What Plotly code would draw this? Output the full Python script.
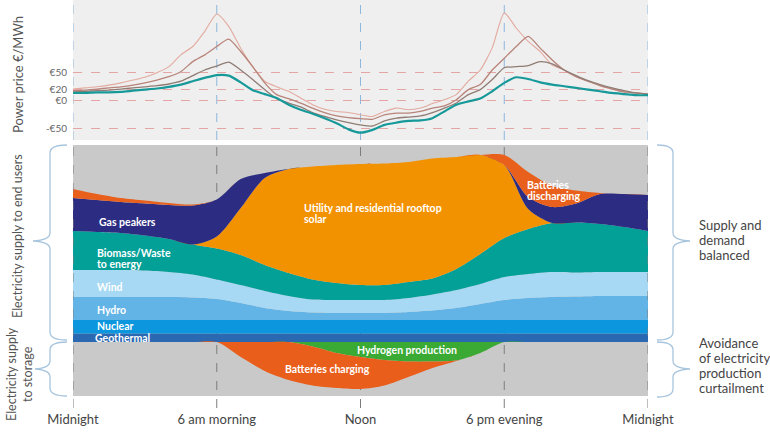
import plotly.graph_objects as go

# ---------------- DATA ----------------
hours = [0, 1, 2, 3, 4, 5, 6, 7, 8, 9, 10, 11, 12, 13, 14, 15, 16, 17, 18, 19, 20, 21, 22, 23, 24]
half_hours = [i / 2 for i in range(49)]

axis_hours = [0, 6, 12, 18, 24]
axis_labels = ["Midnight", "6 am morning", "Noon", "6 pm evening", "Midnight"]

price_ticks = [50, 20, 0, -50]
price_tick_labels = ["€50", "€20", "€0", "-€50"]

# power price scenarios (€/MWh), half-hourly
price_high = [21, 23, 25, 28, 32, 37, 42, 50, 61, 82, 97, 124, 155, 133, 94, 61, 35, 25, 17, 5,
              -7, -15, -19, -21, -25, -28, -19, -13, -16, -13, -5, 2, 11, 35, 55, 95, 157, 130, 106, 88,
              64, 55, 43, 35, 27, 21, 16, 14, 12]
price_mid = [18, 19, 21, 23, 25, 28, 32, 37, 43, 52, 70, 82, 97, 110, 88, 61, 32, 11, 4, -4,
             -13, -21, -27, -30, -32, -33, -25, -22, -22, -19, -13, -9, 2, 20, 29, 55, 76, 97, 115, 94,
             73, 55, 43, 35, 27, 21, 16, 14, 12]
price_low = [16, 17, 18, 19, 21, 23, 25, 27, 30, 35, 45, 55, 62, 69, 55, 38, 20, 4, -4, -11,
             -21, -28, -34, -39, -43, -45, -36, -31, -29, -27, -21, -13, -4, 11, 20, 38, 59, 61, 63, 70,
             66, 55, 45, 36, 29, 23, 18, 14, 12]
price_base = [14, 14, 15, 15, 16, 18, 20, 22, 25, 29, 35, 41, 46, 45, 33, 19, 12, 5, -7, -16,
              -23, -31, -40, -51, -57, -52, -43, -39, -36, -35, -31, -19, -7, -1, 4, 17, 32, 42, 39, 33,
              29, 26, 23, 20, 17, 14, 12, 10, 10]

# electricity supply to end users (stacked, arbitrary units), hourly
geothermal = [8.5, 8.5, 8.5, 8.5, 8.5, 8.5, 8.5, 8.5, 8.5, 8.5, 8.5, 8.5, 8.5, 8.5, 8.5, 8.5, 8.5, 8.5, 8.5, 8.5, 8.5, 8.5, 8.5, 8.5, 8.5]
nuclear = [13.5, 13.5, 13.5, 13.5, 13.5, 13.5, 13.5, 13.5, 13.5, 13.5, 13.5, 13.5, 13.5, 13.5, 13.5, 13.5, 13.5, 13.5, 13.5, 13.5, 13.5, 13.5, 13.5, 13.5, 13.5]
hydro = [23, 23, 23, 23, 23, 22.5, 21, 17, 12, 9, 7.5, 7, 7, 7, 8, 9.5, 12, 16, 20, 22, 23, 23.5, 24, 24, 24]
wind = [27, 27, 27, 26.5, 25, 23, 19.5, 18, 17, 15, 13, 13, 13, 13, 14, 16, 18, 20, 23, 24, 25, 24, 24, 24, 24]
biomass = [39, 38, 37, 35, 33, 30, 31, 30, 26, 23, 20, 17, 15, 15, 16, 16, 21, 30, 39, 45, 49, 50, 48, 45, 41]
solar = [0, 0, 0, 0, 0, 0, 12, 47, 87, 104, 113, 118, 121, 121.5, 120, 120, 112, 99, 73, 20, 0, 0, 0, 0, 0]
gas_peakers = [33, 32, 31, 32, 34, 39, 37, 29, 5, 0, 0, 0, 0, 0, 0, 0, 0, 0, 0, 12, 16, 19, 30, 33, 36]
batteries_discharging = [9, 6, 4, 3, 2, 1, 0, 0, 0, 0, 0, 0, 0, 0, 0, 0, 0, 0, 10, 25, 21, 13, 1, 0, 0]

# electricity supply to storage (negative = absorbed)
hydrogen_production = [0, 0, 0, 0, 0, 0, 0, 0, 0, 0, -4.5, -11, -15, -18, -19.5, -19.5, -18.5, -11, 0, 0, 0, 0, 0, 0, 0]
batteries_charging = [0, 0, 0, 0, 0, 0, 0, -15, -29, -38, -39, -35, -32, -25.5, -15.5, -6.5, -0.5, 0, 0, 0, 0, 0, 0, 0, 0]

# ---------------- STYLE ----------------
W, H = 770, 433
FONT = "Lato, 'Open Sans', sans-serif"


def px(x):
    return x / W


def py(y):
    return 1 - y / H


X0, X1 = 73, 648
TOP0, TOP1 = 0, 140
MID0, MID1 = 145, 396

fig = go.Figure()

price_series = [
    (price_high, "#e3aa9f", 1.1),
    (price_mid, "#b8847a", 1.3),
    (price_low, "#8f7c74", 1.3),
    (price_base, "#17999a", 2.2),
]
for vals, col, w in price_series:
    fig.add_trace(go.Scatter(
        x=half_hours, y=vals, mode="lines", xaxis="x", yaxis="y",
        line=dict(color=col, width=w, shape="spline", smoothing=0.6),
        hoverinfo="skip", showlegend=False))

supply_layers = [
    ("Geothermal", geothermal, "#2a68b1"),
    ("Nuclear", nuclear, "#0b96dd"),
    ("Hydro", hydro, "#63b4e6"),
    ("Wind", wind, "#a7d9f4"),
    ("Biomass/Waste to energy", biomass, "#03a098"),
    ("Solar", solar, "#f39200"),
    ("Gas peakers", gas_peakers, "#2c2d82"),
    ("Batteries discharging", batteries_discharging, "#e8601c"),
]
for name, vals, col in supply_layers:
    fig.add_trace(go.Scatter(
        x=hours, y=vals, name=name, mode="lines", stackgroup="supply",
        xaxis="x2", yaxis="y2", fillcolor=col,
        line=dict(width=0, color=col, shape="spline", smoothing=0.8),
        hoverinfo="skip", showlegend=False))

storage_layers = [
    ("Hydrogen production", hydrogen_production, "#3aaa35"),
    ("Batteries charging", batteries_charging, "#ea5e1b"),
]
for name, vals, col in storage_layers:
    fig.add_trace(go.Scatter(
        x=hours, y=vals, name=name, mode="lines", stackgroup="storage",
        xaxis="x2", yaxis="y2", fillcolor=col,
        line=dict(width=0, color=col, shape="spline", smoothing=0.8),
        hoverinfo="skip", showlegend=False))

# ---------------- SHAPES ----------------
shapes = []
shapes.append(dict(type="rect", xref="paper", yref="paper", x0=px(X0), x1=px(X1),
                   y0=py(TOP1), y1=py(TOP0), fillcolor="#efefef", line=dict(width=0), layer="below"))
shapes.append(dict(type="rect", xref="paper", yref="paper", x0=px(X0), x1=px(X1),
                   y0=py(MID1), y1=py(MID0), fillcolor="#c9c9c9", line=dict(width=0), layer="below"))
for h in axis_hours:
    shapes.append(dict(type="line", xref="x", yref="paper", x0=h, x1=h, y0=py(TOP1), y1=py(TOP0),
                       line=dict(color="#8db7dd", width=1, dash="dash"), layer="below"))
for h in axis_hours:
    shapes.append(dict(type="line", xref="x2", yref="paper", x0=h, x1=h, y0=py(408), y1=py(MID0),
                       line=dict(color="#7d7d7d", width=1, dash="dash"),
                       layer="above" if h in (0, 24) else "below"))


def brace(xe, xv, xp, yt, yb, ym, r=8):
    pts = [
        ("M", [(xe, yt)]),
        ("Q", [(xv, yt), (xv, yt + r)]),
        ("L", [(xv, ym - r)]),
        ("Q", [(xv, ym - 1), (xp, ym)]),
        ("Q", [(xv, ym + 1), (xv, ym + r)]),
        ("L", [(xv, yb - r)]),
        ("Q", [(xv, yb), (xe, yb)]),
    ]
    s = ""
    for cmd, ps in pts:
        s += cmd + " " + " ".join(f"{px(a):.5f},{py(b):.5f}" for a, b in ps) + " "
    return s.strip()


brace_line = dict(color="#a8c5de", width=1.3)
for args in [(67, 50, 33, 145, 340, 241), (67, 50, 35, 342, 396, 369),
             (657, 673, 690, 145, 340, 241), (657, 673, 690, 342, 397, 369)]:
    shapes.append(dict(type="path", xref="paper", yref="paper", path=brace(*args), line=brace_line))

# ---------------- ANNOTATIONS ----------------
ann = []
rot = dict(xref="paper", yref="paper", textangle=-90, showarrow=False,
           xanchor="center", yanchor="middle")
ann.append(dict(text="Power price €/MWh", x=px(18), y=py(75),
                font=dict(size=13, color="#555", family=FONT), **rot))
ann.append(dict(text="Electricity supply to end users", x=px(17), y=py(236),
                font=dict(size=12.5, color="#555", family=FONT), **rot))
ann.append(dict(text="Electricity supply<br>to storage", x=px(19), y=py(374), align="center",
                font=dict(size=12.5, color="#555", family=FONT), **rot))

for i, t in enumerate(["Supply and", "demand", "balanced"]):
    ann.append(dict(text=t, x=px(697), y=py(225 + 15 * i), xref="paper", yref="paper",
                    xanchor="left", yanchor="middle",
                    showarrow=False, font=dict(size=13, color="#444", family=FONT)))
for i, t in enumerate(["Avoidance", "of electricity", "production", "curtailment"]):
    ann.append(dict(text=t, x=px(697), y=py(343 + 15 * i), xref="paper", yref="paper",
                    xanchor="left", yanchor="middle",
                    showarrow=False, font=dict(size=13, color="#444", family=FONT)))

inner = [
    ("Gas peakers", 1.0, 120),
    ("Biomass/Waste", 0.92, 89.5),
    ("to energy", 0.92, 78.5),
    ("Wind", 0.92, 55),
    ("Hydro", 0.92, 32),
    ("Nuclear", 0.92, 16.5),
    ("Geothermal", 0.85, 4.5),
    ("Utility and residential rooftop", 9.55, 134.5),
    ("solar", 9.55, 123.5),
    ("Batteries", 18.86, 157.5),
    ("discharging", 18.86, 146.5),
    ("Hydrogen production", 11.77, -8),
    ("Batteries charging", 8.76, -27),
]
for t, hx, vy in inner:
    ann.append(dict(text=f"<b>{t}</b>", x=hx, y=vy, xref="x2", yref="y2", xanchor="left",
                    yanchor="middle", showarrow=False,
                    font=dict(size=10.5, color="white", family=FONT)))

fig.update_layout(
    width=W, height=H, margin=dict(l=0, r=0, t=0, b=0, autoexpand=False),
    paper_bgcolor="white", plot_bgcolor="rgba(0,0,0,0)",
    showlegend=False, font=dict(family=FONT, size=12, color="#444"),
    xaxis=dict(domain=[px(X0), px(X1)], range=[0, 24], anchor="y", showticklabels=False,
               showgrid=False, zeroline=False, ticks="", automargin=False),
    yaxis=dict(domain=[py(TOP1), py(TOP0)], range=[-70, 180], anchor="x",
               tickvals=price_ticks, ticktext=price_tick_labels, showgrid=True,
               gridcolor="#e4a5a5", griddash="dash", gridwidth=1, zeroline=False, ticks="",
               tickfont=dict(size=10, color="#666", family=FONT), ticklabelstandoff=5,
               automargin=False),
    xaxis2=dict(domain=[px(X0), px(X1)], range=[0, 24], anchor="y2", matches="x",
                tickvals=axis_hours, ticktext=axis_labels, showgrid=False, zeroline=False,
                ticks="", tickfont=dict(size=13, color="#444", family=FONT), ticklabelstandoff=14,
                automargin=False),
    yaxis2=dict(domain=[py(MID1), py(MID0)], range=[-54, 197], anchor="x2", showgrid=False,
                zeroline=False, showticklabels=False, ticks="", automargin=False),
    shapes=shapes, annotations=ann,
)

fig.write_html("out.html")
